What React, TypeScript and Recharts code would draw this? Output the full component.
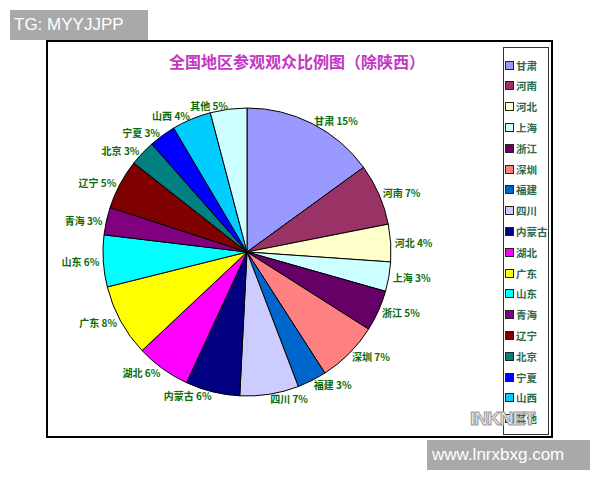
import React from 'react';
import { PieChart, Pie, Cell, Legend } from 'recharts';

// regions, clockwise from 12 o'clock
const regions = [
  '甘肃', '河南', '河北', '上海', '浙江', '深圳', '福建', '四川', '内蒙古',
  '湖北', '广东', '山东', '青海', '辽宁', '北京', '宁夏', '山西', '其他',
];

// share of visitors (%)
const shares = [
  15.0, 6.9, 4.2, 3.3, 4.6, 6.9, 3.3, 6.6, 6.1,
  6.1, 8.1, 5.8, 3.1, 5.6, 2.9, 3.0, 4.4, 4.1,
];

// percentage text printed next to each slice
const pctLabels = [
  '15%', '7%', '4%', '3%', '5%', '7%', '3%', '7%', '6%',
  '6%', '8%', '6%', '3%', '5%', '3%', '3%', '4%', '5%',
];

const sliceColors = [
  '#9999FF', '#993366', '#FFFFCC', '#CCFFFF', '#660066', '#FF8080', '#0066CC', '#CCCCFF', '#000080',
  '#FF00FF', '#FFFF00', '#00FFFF', '#800080', '#800000', '#008080', '#0000FF', '#00CCFF', '#CCFFFF',
];

const data = regions.map((name, i) => ({ name, value: shares[i], pct: pctLabels[i] }));

const RAD = Math.PI / 180;
const CJK = '"Noto Sans CJK SC", "DejaVu Sans", sans-serif';

function renderLabel(props: any) {
  const { cx, cy, midAngle, outerRadius, index } = props;
  const r = outerRadius + 4;
  const x = cx + r * Math.cos(-midAngle * RAD);
  const y = cy + r * Math.sin(-midAngle * RAD);
  return (
    <text
      x={x}
      y={y}
      textAnchor={x >= cx ? 'start' : 'end'}
      dominantBaseline="central"
      fill="#0b6b0b"
      fontSize={10}
      fontWeight={700}
      fontFamily={CJK}
    >
      {`${regions[index]} ${pctLabels[index]}`}
    </text>
  );
}

function renderLegend() {
  return (
    <div
      style={{
        width: 46,
        height: 388,
        border: '1px solid #333',
        boxSizing: 'border-box',
        background: '#fff',
        position: 'relative',
      }}
    >
      {regions.map((name, i) => (
        <div
          key={name}
          style={{
            position: 'absolute',
            left: 1,
            top: 10 + i * 20.8,
            height: 14,
            display: 'flex',
            alignItems: 'center',
            whiteSpace: 'nowrap',
          }}
        >
          <span
            style={{
              width: 7,
              height: 7,
              background: sliceColors[i],
              border: '1px solid #222',
              display: 'inline-block',
              marginRight: 2,
            }}
          />
          <span style={{ fontFamily: CJK, fontSize: 10.5, fontWeight: 700, color: '#2d6a4c' }}>{name}</span>
        </div>
      ))}
    </div>
  );
}

export default function App() {
  return (
    <div style={{ position: 'absolute', left: 0, top: 0, width: 600, height: 480, background: '#fff', overflow: 'hidden' }}>
      <div
        style={{
          position: 'absolute',
          left: 46,
          top: 40,
          width: 507,
          height: 398,
          border: '2px solid #000',
          boxSizing: 'border-box',
        }}
      />
      <div
        style={{
          position: 'absolute',
          left: 147,
          top: 50,
          width: 300,
          textAlign: 'center',
          fontFamily: CJK,
          fontSize: 16,
          fontWeight: 700,
          color: '#c436c4',
          lineHeight: '22px',
        }}
      >
        全国地区参观观众比例图（除陕西）
      </div>
      <div style={{ position: 'absolute', left: 0, top: 0 }}>
        <PieChart width={600} height={480} margin={{ top: 0, right: 0, bottom: 0, left: 0 }}>
          <Pie
            data={data}
            dataKey="value"
            nameKey="name"
            cx={247}
            cy={252}
            outerRadius={144}
            startAngle={90}
            endAngle={-270}
            stroke="#000"
            strokeWidth={1}
            label={renderLabel}
            labelLine={false}
            isAnimationActive={false}
          >
            {data.map((d, i) => (
              <Cell key={d.name} fill={sliceColors[i]} />
            ))}
          </Pie>
          <Legend
            content={renderLegend}
            wrapperStyle={{ left: 503, top: 47, width: 46, height: 388 }}
          />
        </PieChart>
      </div>
      <div
        style={{
          position: 'absolute',
          left: 470,
          top: 408,
          fontFamily: '"Liberation Sans", Arial, sans-serif',
          fontSize: 19,
          fontWeight: 700,
          color: '#e8e8e8',
          WebkitTextStroke: '1px #9a9a9a',
          letterSpacing: -1,
        }}
      >
        INKNET
      </div>
      <div
        style={{
          position: 'absolute',
          left: 10,
          top: 10,
          width: 138,
          height: 30,
          background: '#a9a9a9',
          color: '#fff',
          fontFamily: '"Liberation Sans", Arial, sans-serif',
          fontSize: 17,
          lineHeight: '30px',
          paddingLeft: 4,
          boxSizing: 'border-box',
        }}
      >
        TG: MYYJJPP
      </div>
      <div
        style={{
          position: 'absolute',
          left: 427,
          top: 440,
          width: 163,
          height: 30,
          background: '#a9a9a9',
          color: '#fff',
          fontFamily: '"Liberation Sans", Arial, sans-serif',
          fontSize: 17,
          lineHeight: '30px',
          paddingLeft: 5,
          boxSizing: 'border-box',
        }}
      >
        www.lnrxbxg.com
      </div>
    </div>
  );
}
